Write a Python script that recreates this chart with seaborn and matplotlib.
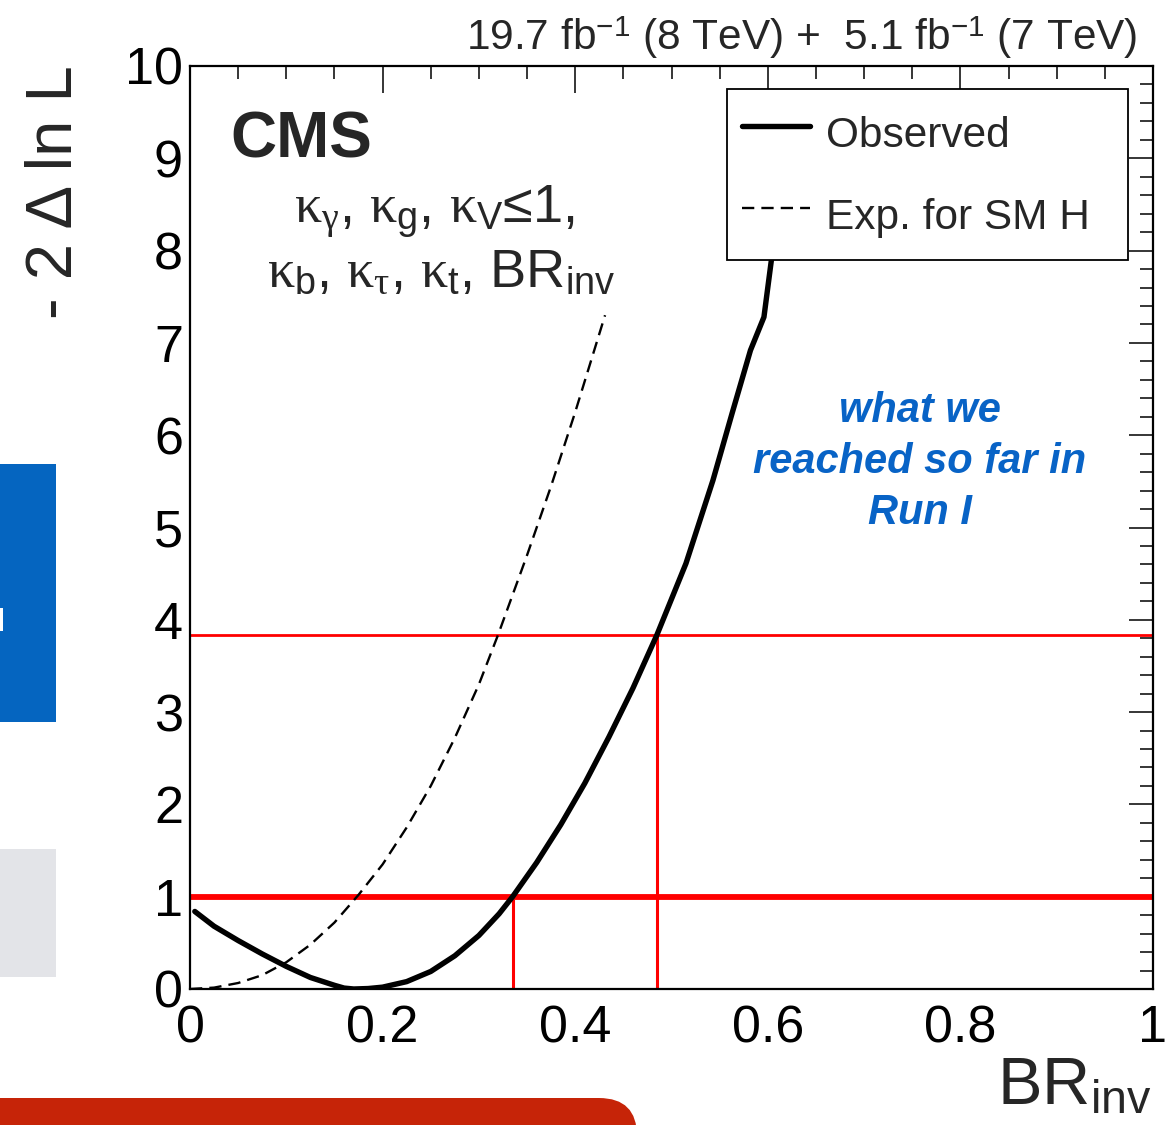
import numpy as np
import pandas as pd
import matplotlib
matplotlib.use("Agg")
import matplotlib.pyplot as plt
from matplotlib.patches import Rectangle, FancyBboxPatch
from matplotlib.ticker import MultipleLocator, FixedLocator
import seaborn as sns

# Profile likelihood scan of the invisible branching fraction
obs_br = [0.005, 0.025, 0.05, 0.075, 0.10, 0.125, 0.15, 0.16, 0.17, 0.185,
          0.20, 0.225, 0.25, 0.275, 0.30, 0.321, 0.335, 0.36, 0.385, 0.41,
          0.435, 0.46, 0.485, 0.515, 0.543, 0.563, 0.582, 0.596, 0.601,
          0.605, 0.612]
obs_nll = [0.84, 0.68, 0.525, 0.38, 0.245, 0.125, 0.04, 0.01, 0.0, 0.005,
           0.02, 0.08, 0.19, 0.36, 0.58, 0.815, 1.0, 1.37, 1.78, 2.23,
           2.73, 3.26, 3.84, 4.61, 5.51, 6.24, 6.92, 7.28, 7.68,
           8.0, 9.0]

exp_br = [0.0, 0.025, 0.05, 0.075, 0.10, 0.125, 0.15, 0.175, 0.20, 0.225,
          0.25, 0.275, 0.30, 0.32, 0.35, 0.375, 0.40, 0.431]
exp_nll = [0.0, 0.015, 0.065, 0.15, 0.29, 0.48, 0.72, 1.02, 1.35, 1.75,
           2.20, 2.72, 3.30, 3.84, 4.70, 5.45, 6.25, 7.30]

# 68% / 95% CL thresholds and the observed upper limits
cl_levels = [1.0, 3.84]
cl_limits = [0.335, 0.485]

x_ticks = [0.0, 0.2, 0.4, 0.6, 0.8, 1.0]
x_tick_labels = ["0", "0.2", "0.4", "0.6", "0.8", "1"]
y_ticks = list(range(0, 11))
y_tick_labels = [str(v) for v in y_ticks]

note_lines = ["what we", "reached so far in", "Run I"]

sns.set_style("white")
plt.rcParams["font.family"] = ["Liberation Sans", "DejaVu Sans"]
plt.rcParams["mathtext.fontset"] = "custom"
plt.rcParams["mathtext.rm"] = "Liberation Sans"
plt.rcParams["mathtext.it"] = "Liberation Serif"
plt.rcParams["mathtext.bf"] = "Liberation Sans:bold"

W, H = 1170, 1125
fig = plt.figure(figsize=(W / 100, H / 100), dpi=100)
fig.patch.set_facecolor("white")

# slide decorations around the plot
fig.add_artist(Rectangle((0, (H - 722) / 100), 0.56, (722 - 464) / 100,
                         transform=fig.dpi_scale_trans, color="#0565c0", lw=0))
fig.add_artist(Rectangle((0, (H - 631) / 100), 0.03, (631 - 608) / 100,
                         transform=fig.dpi_scale_trans, color="white", lw=0))
fig.add_artist(Rectangle((0, (H - 977) / 100), 0.56, (977 - 849) / 100,
                         transform=fig.dpi_scale_trans, color="#e3e4e8", lw=0))
fig.add_artist(FancyBboxPatch((-1.0, -1.0), 1.0 + 6.37, 1.0 + (H - 1098) / 100,
                              boxstyle="round,pad=0,rounding_size=0.38",
                              transform=fig.dpi_scale_trans,
                              facecolor="#c62408", edgecolor="none"))

ax = fig.add_axes([190 / W, 1 - 989 / H, (1153 - 190) / W, (989 - 66) / H])

# confidence-level reference lines
ax.axhline(cl_levels[0], color="red", lw=4.2, zorder=1)
ax.axhline(cl_levels[1], color="red", lw=2.0, zorder=1)
ax.vlines(cl_limits, 0, cl_levels, color="red", lw=2.2, zorder=1)

obs = pd.DataFrame({"BR": obs_br, "nll": obs_nll})
exp = pd.DataFrame({"BR": exp_br, "nll": exp_nll})
sns.lineplot(data=obs, x="BR", y="nll", ax=ax, color="black", lw=3.9,
             sort=False, estimator=None, label="Observed", zorder=3)
sns.lineplot(data=exp, x="BR", y="nll", ax=ax, color="black", lw=1.7,
             sort=False, estimator=None, label="Exp. for SM H", zorder=3,
             linestyle=(0, (5.2, 3.0)))

ax.set_xlim(0, 1)
ax.set_ylim(0, 10)
ax.set_xlabel("")
ax.set_ylabel("")
ax.xaxis.set_major_locator(FixedLocator(x_ticks))
ax.set_xticklabels(x_tick_labels)
ax.xaxis.set_minor_locator(MultipleLocator(0.05))
ax.yaxis.set_major_locator(FixedLocator(y_ticks))
ax.set_yticklabels(y_tick_labels)
ax.yaxis.set_minor_locator(MultipleLocator(0.2))

for s in ax.spines.values():
    s.set_linewidth(1.6)
    s.set_color("black")
ax.tick_params(which="both", direction="in", top=True, right=True,
               width=1.1, colors="black", labelsize=37.5)
ax.tick_params(axis="x", which="major", length=19.5, pad=11)
ax.tick_params(axis="x", which="minor", length=9.5)
ax.tick_params(axis="y", which="major", length=17.5, pad=5)
ax.tick_params(axis="y", which="minor", length=9.5)

leg = ax.legend(loc="upper left",
                bbox_to_anchor=(727 / W, 1 - 89 / H - 0.01, 401 / W, 0.01),
                bbox_transform=fig.transFigure, mode="expand", frameon=True,
                fancybox=False, edgecolor="black", framealpha=1, fontsize=30.5,
                handlelength=1.6, handletextpad=0.38, borderpad=0.35,
                handleheight=1.78, labelspacing=0.54, borderaxespad=0)
leg.get_frame().set_linewidth(1.3)
leg.set_zorder(5)

# annotations
fig.text(230 / W, 1 - 158 / H, "CMS", weight="bold", size=46,
         ha="left", va="baseline")
fig.text(434 / W, 1 - 222 / H,
         r"$\kappa_{\gamma}$, $\kappa_{\mathrm{g}}$, $\kappa_{\mathrm{V}}$≤1,",
         size=39, ha="center", va="baseline")
fig.text(441 / W, 1 - 287 / H,
         r"$\kappa_{\mathrm{b}}$, $\kappa_{\tau}$, $\kappa_{\mathrm{t}}$, BR$_{\mathrm{inv}}$",
         size=39, ha="center", va="baseline")
for i, line in enumerate(note_lines):
    fig.text(920 / W, 1 - (422 + 51 * i) / H, line, color="#0863c6",
             weight="bold", style="italic", size=30, ha="center", va="baseline")

fig.text(1137 / W, 1 - 50 / H,
         r"19.7 fb$^{\mathrm{-1}}$ (8 TeV) +  5.1 fb$^{\mathrm{-1}}$ (7 TeV)",
         size=30.5, ha="right", va="baseline")
fig.text(55 / W, 1 - 65 / H, "- 2 Δ ln L", rotation=90, size=47,
         ha="center", va="top")
fig.text(1152 / W, 1 - 1105 / H, r"BR$_{\mathrm{inv}}$", size=48,
         ha="right", va="baseline")

fig.savefig("out.png", dpi=100, facecolor="white")
